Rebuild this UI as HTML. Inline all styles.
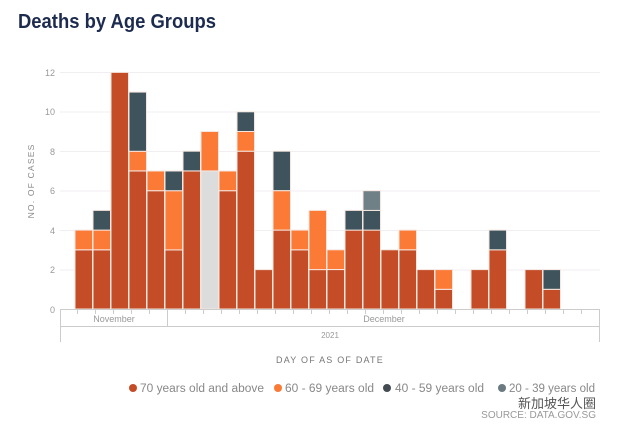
<!DOCTYPE html>
<html><head><meta charset="utf-8"><style>
html,body{margin:0;padding:0;background:#fff;width:617px;height:429px;overflow:hidden}
svg{display:block}
text{font-family:"Liberation Sans","Noto Sans CJK SC",sans-serif}
</style></head><body>
<svg width="617" height="429" viewBox="0 0 617 429" xmlns="http://www.w3.org/2000/svg">
<rect width="617" height="429" fill="#fff"/>
<text x="18" y="28" font-size="20" font-weight="bold" fill="#1d2b4f" textLength="198" lengthAdjust="spacingAndGlyphs">Deaths by Age Groups</text>
<g stroke="#f1eef1" stroke-width="1">
<line x1="60" y1="72.5" x2="600" y2="72.5"/>
<line x1="60" y1="112" x2="600" y2="112"/>
<line x1="60" y1="151.5" x2="600" y2="151.5"/>
<line x1="60" y1="191" x2="600" y2="191"/>
<line x1="60" y1="230.5" x2="600" y2="230.5"/>
<line x1="60" y1="270" x2="600" y2="270"/>
</g>
<g font-size="9" fill="#999" text-anchor="end">
<text x="55" y="313">0</text><text x="55" y="273">2</text><text x="55" y="234">4</text>
<text x="55" y="194">6</text><text x="55" y="155">8</text><text x="55" y="115">10</text><text x="55" y="76">12</text>
</g>
<text transform="translate(34,181) rotate(-90)" font-size="8.5" fill="#888" text-anchor="middle" letter-spacing="1.2">NO. OF CASES</text>
<g id="bars" stroke="#f6e6df" stroke-width="1"></g>
<g stroke="#ccc" stroke-width="1" fill="none">
<line x1="60" y1="309.5" x2="600" y2="309.5"/>
<line x1="60.5" y1="309" x2="60.5" y2="342"/>
<line x1="599.5" y1="309" x2="599.5" y2="342"/>
<line x1="167.5" y1="309" x2="167.5" y2="326"/>
<line x1="60" y1="326.5" x2="600" y2="326.5"/>
</g>
<g id="ticks" stroke="#ccc"></g>
<text x="114" y="322" font-size="9" fill="#999" text-anchor="middle">November</text>
<text x="384" y="322" font-size="9" fill="#999" text-anchor="middle">December</text>
<text x="330" y="338" font-size="8" fill="#999" text-anchor="middle">2021</text>
<text x="330" y="363" font-size="9" fill="#777" text-anchor="middle" letter-spacing="1.2">DAY OF AS OF DATE</text>
<g font-size="11.5" fill="#888">
<circle cx="133" cy="388" r="4" fill="#c44d27"/><text x="140" y="392" textLength="124" lengthAdjust="spacingAndGlyphs">70 years old and above</text>
<circle cx="278" cy="388" r="4" fill="#fb7a36"/><text x="285" y="392" textLength="89" lengthAdjust="spacingAndGlyphs">60 - 69 years old</text>
<circle cx="387" cy="388" r="4" fill="#444b52"/><text x="395" y="392" textLength="89" lengthAdjust="spacingAndGlyphs">40 - 59 years old</text>
<circle cx="502" cy="388" r="4" fill="#6b7a80"/><text x="509" y="392" textLength="86" lengthAdjust="spacingAndGlyphs">20 - 39 years old</text>
</g>
<text x="596" y="408" font-size="13" fill="#555" text-anchor="end">新加坡华人圈</text>
<text x="596" y="418" font-size="10" fill="#999" text-anchor="end">SOURCE: DATA.GOV.SG</text>
</svg>
<script>
var d=[[3,1],[3,1,1],[12],[7,1,3],[6,1],[3,3,1],[7,0,1],[7,2],[6,1],[8,1,1],[2],[4,2,2],[3,1],[2,3],[2,1],[4,0,1],[4,0,1,1],[3],[3,1],[2],[1,1],[],[2],[3,0,1],[],[2],[1,0,1]];
var c=["#c44d27","#fb7a36","#3f535d","#6f8087"];
var g=document.getElementById('bars'),s='';
var u=19.72,b=309;
d.forEach(function(v,i){var x=75+18*i,y=b;v.forEach(function(n,k){if(!n)return;var h=n*u;y-=h;var col=c[k];if(i==7&&k==0)col="#dcdcdc";s+='<rect x="'+x+'" y="'+y.toFixed(1)+'" width="17.5" height="'+h.toFixed(1)+'" fill="'+col+'"/>';});});
g.innerHTML=s;
var t='';for(var i=0;i<29;i++){var x=77.5+18*i;t+='<line x1="'+x+'" y1="310" x2="'+x+'" y2="314"/>';}
document.getElementById('ticks').innerHTML=t;
</script>
</body></html>
